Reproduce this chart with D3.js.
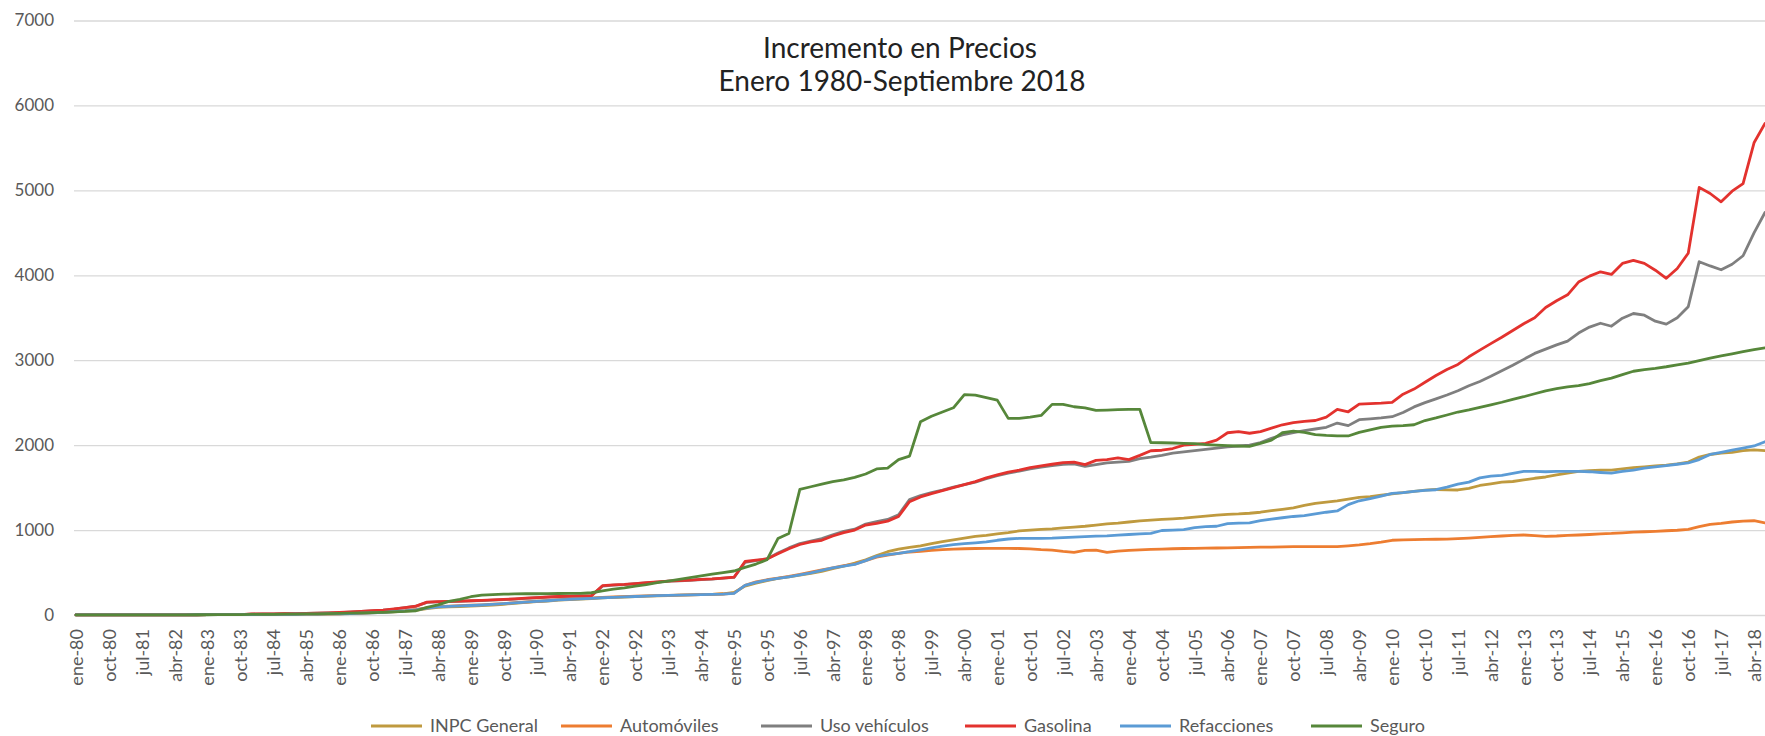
<!DOCTYPE html>
<html>
<head>
<meta charset="utf-8">
<script src="https://cdn.jsdelivr.net/npm/d3@7"></script>
<style>
  html, body { margin: 0; padding: 0; background: #ffffff; }
  svg { display: block; font-family: Lato, "Open Sans", sans-serif; }
</style>
</head>
<body>
<svg id="chart" width="1765" height="736"></svg>
<script>
// ---------- DATA ----------
const quarterMonths = ["ene", "abr", "jul", "oct"];
const years = [1980,1981,1982,1983,1984,1985,1986,1987,1988,1989,1990,1991,1992,1993,1994,1995,1996,1997,1998,1999,
               2000,2001,2002,2003,2004,2005,2006,2007,2008,2009,2010,2011,2012,2013,2014,2015,2016,2017,2018];
// quarterly categories ene-80 ... jul-18
const categories = [];
years.forEach(y => quarterMonths.forEach((m, q) => {
  if (y === 2018 && q > 2) return;
  categories.push(m + "-" + String(y).slice(2));
}));

const yTicks = [0, 1000, 2000, 3000, 4000, 5000, 6000, 7000];
const seriesNames = ["INPC General", "Automóviles", "Uso vehículos", "Gasolina", "Refacciones", "Seguro"];
const seriesColors = ["#BF9A3F", "#ED7D31", "#7F7F7F", "#E3322E", "#5B9BD5", "#56873A"];

const inpcGeneral = [
  1,1.1,1.2,1.3, 1.3,1.4,1.5,1.6, 1.8,2.1,2.4,2.7, 3.3,3.8,4.3,4.8, 5.5,6,6.7,7.3, 8.5,9.3,10.5,12,
  14,17,20,24, 30,37,45,55, 75,90,97,100, 105,110,118,126, 138,148,157,165, 175,182,187,193,
  202,207,212,217, 222,226,229,233, 236,240,244,250, 265,340,375,405, 430,450,470,490, 515,545,575,610,
  650,700,745,775, 795,815,840,865, 885,905,925,938, 955,970,990,1000, 1008,1015,1025,1035,
  1045,1058,1072,1082, 1095,1108,1118,1125, 1132,1140,1152,1165, 1177,1185,1190,1198, 1210,1228,1244,1262,
  1290,1315,1330,1345, 1365,1385,1395,1410, 1425,1440,1455,1470, 1478,1474,1472,1490, 1525,1545,1565,1572,
  1590,1610,1625,1650, 1670,1690,1700,1705, 1707,1720,1735,1745, 1755,1765,1780,1800, 1860,1890,1905,1915,
  1935,1945,1935
];
const automoviles = [
  1,1.1,1.2,1.3, 1.4,1.5,1.6,1.8, 2,2.3,2.7,3.2, 3.8,4.3,4.8,5.4, 6,6.7,7.5,8.3, 9.2,10.5,12,13.5,
  15,18,22,27, 33,42,52,65, 85,98,105,110, 115,120,127,135, 145,153,162,170, 180,188,194,200,
  208,212,217,221, 225,228,231,234, 237,240,243,247, 258,350,390,415, 435,455,478,505, 530,555,580,600,
  640,680,705,725, 742,750,760,770, 775,780,783,785, 785,785,783,778, 770,765,750,738,
  760,765,738,752, 760,768,773,776, 780,783,785,787, 789,791,793,797, 799,800,802,804,
  804,804,804,806, 815,825,840,858, 880,884,887,890, 892,893,900,906, 914,922,930,938,
  942,935,925,930, 938,942,948,955, 960,968,975,980, 985,992,998,1008, 1040,1068,1080,1095,
  1105,1110,1085
];
const usoVehiculos = [
  1,1,1,1, 1.2,1.2,1.2,1.3, 1.5,1.6,2.2,2.4, 3.5,3.6,3.9,5, 11,12.5,13.5,14.5, 16.5,18.5,21.5,24.5,
  29,35,41,49, 57,70,86,103, 148,155,158,161, 166,170,176,181, 188,196,203,210, 216,220,223,226,
  340,352,358,368, 378,388,398,403, 408,418,423,433, 443,620,640,660, 730,790,840,870, 900,945,985,1010,
  1070,1100,1125,1180, 1360,1405,1440,1470, 1505,1535,1565,1605, 1640,1670,1695,1720, 1740,1760,1775,1780,
  1750,1770,1790,1800, 1810,1840,1858,1880, 1905,1920,1935,1950, 1965,1980,1990,2001, 2030,2080,2120,2146,
  2170,2190,2210,2260, 2230,2300,2310,2320, 2335,2385,2450,2500, 2545,2590,2640,2700, 2750,2810,2875,2940,
  3010,3080,3130,3180, 3225,3320,3390,3435, 3400,3495,3550,3530, 3460,3425,3500,3630, 4160,4110,4065,4130,
  4230,4500,4740
];
const gasolina = [
  1,1,1,1, 1.2,1.2,1.2,1.3, 1.5,1.5,2.2,2.3, 3.5,3.6,3.8,5, 12,13,14,15, 17,19,22,25,
  30,36,42,50, 58,72,88,105, 152,158,160,163, 168,172,178,183, 190,198,205,212, 218,222,225,228,
  345,355,360,370, 380,390,400,405, 410,420,425,435, 445,630,645,660, 720,780,830,860, 880,930,970,1000,
  1059,1080,1105,1160, 1334,1390,1430,1465, 1500,1535,1570,1615, 1650,1683,1705,1735, 1755,1775,1793,1800,
  1770,1820,1830,1850, 1830,1880,1934,1940, 1960,2001,2010,2020, 2060,2146,2158,2140, 2160,2200,2240,2265,
  2280,2290,2330,2420, 2393,2484,2490,2495, 2503,2600,2660,2740, 2820,2890,2950,3040, 3119,3195,3270,3350,
  3430,3500,3620,3700, 3770,3920,3990,4041, 4010,4140,4175,4140, 4060,3965,4080,4260, 5035,4963,4865,4990,
  5080,5560,5787
];
const refacciones = [
  1,1.1,1.2,1.3, 1.4,1.5,1.6,1.8, 2,2.3,2.6,3, 3.5,4,4.5,5, 5.6,6.2,7,7.8, 8.7,9.8,11,12.5,
  14,17,21,25, 31,39,48,60, 80,95,102,107, 112,118,125,133, 143,152,160,168, 177,185,190,196,
  203,208,213,218, 223,227,230,233, 236,239,242,246, 255,350,385,410, 430,450,472,495, 525,555,575,595,
  640,690,710,725, 745,768,790,810, 828,840,850,860, 880,895,902,902, 902,905,912,918,
  922,928,932,940, 948,955,961,995, 1000,1005,1030,1040, 1045,1075,1082,1085, 1110,1130,1145,1160,
  1170,1190,1210,1225, 1300,1345,1370,1400, 1432,1440,1455,1468, 1475,1505,1540,1565, 1615,1635,1645,1668,
  1690,1690,1687,1690, 1690,1690,1687,1678, 1670,1690,1707,1730, 1745,1760,1775,1790, 1830,1890,1915,1940,
  1965,1990,2040
];
const seguro = [
  1,1,1,1, 1.2,1.3,1.4,1.5, 1.7,2,2.3,2.7, 3.2,3.8,4.5,5.3, 6.2,7.2,8.3,9.5, 11,12.5,14,16,
  18,21,24,28, 32,37,42,50, 90,120,160,184, 215,235,240,245, 248,250,250,252, 253,254,255,262,
  285,305,320,340, 358,380,400,420, 440,460,480,500, 518,560,600,650, 900,960,1480,1510, 1540,1570,1590,1620,
  1660,1720,1730,1830, 1870,2275,2340,2390, 2440,2595,2590,2560, 2530,2315,2315,2330, 2350,2480,2480,2452,
  2440,2410,2413,2418, 2420,2420,2030,2028, 2025,2021,2018,2005, 2000,1995,1990,1985, 2020,2060,2146,2165,
  2150,2125,2115,2108, 2108,2150,2180,2210, 2225,2230,2240,2290, 2320,2355,2390,2415, 2445,2475,2505,2540,
  2570,2605,2640,2665, 2685,2700,2725,2760, 2790,2830,2870,2890, 2905,2923,2945,2965, 2995,3025,3050,3075,
  3100,3125,3146
];
const seriesValues = [inpcGeneral, automoviles, usoVehiculos, gasolina, refacciones, seguro];

// ---------- LAYOUT ----------
const W = 1765, H = 736;
const plotLeft = 76, plotRight = 1765, gridLeft = 74;
const yBottom = 615, yTop = 20.5;

const svg = d3.select("#chart");
svg.append("rect").attr("width", W).attr("height", H).attr("fill", "#ffffff");

const x = d3.scalePoint().domain(categories).range([plotLeft, plotRight]);
const y = d3.scaleLinear().domain([0, 7000]).range([yBottom, yTop]);

// gridlines + y labels
const yAxis = d3.axisLeft(y).tickValues(yTicks).tickSize(-(W - gridLeft)).tickPadding(20).tickFormat(d3.format("d"));
const gy = svg.append("g").attr("transform", `translate(${gridLeft},0)`).call(yAxis);
gy.select(".domain").remove();
gy.selectAll(".tick line").attr("stroke", "#d9d9d9").attr("stroke-width", 1.3);
gy.selectAll(".tick text").attr("fill", "#595959").attr("font-size", 17).attr("font-family", "Lato, sans-serif");

// x labels every 9 months
const xTickCats = categories.filter((c, i) => i % 3 === 0);
const xAxis = d3.axisBottom(x).tickValues(xTickCats).tickSize(0).tickPadding(0);
const gx = svg.append("g").attr("transform", `translate(0,${yBottom})`).call(xAxis);
gx.select(".domain").remove();
gx.selectAll(".tick text")
  .attr("fill", "#595959").attr("font-size", 18).attr("font-family", "Lato, sans-serif")
  .attr("text-anchor", "end")
  .attr("transform", "translate(0,14) rotate(-90)")
  .attr("x", 0).attr("y", 0).attr("dy", "0.35em");

// lines
svg.append("clipPath").attr("id", "plotclip")
  .append("rect").attr("x", 0).attr("y", 0).attr("width", W).attr("height", yBottom + 5);
const line = d3.line().x((d, i) => x(categories[i])).y(d => y(d));
const gLines = svg.append("g").attr("clip-path", "url(#plotclip)");
seriesValues.forEach((vals, k) => {
  gLines.append("path")
    .attr("d", line(vals))
    .attr("fill", "none")
    .attr("stroke", seriesColors[k])
    .attr("stroke-width", 2.8)
    .attr("stroke-linejoin", "round")
    .attr("stroke-linecap", "round");
});

// title
const title = svg.append("text").attr("x", 900).attr("text-anchor", "middle")
  .attr("fill", "#222222").attr("font-size", 28).attr("font-family", "Lato, sans-serif");
title.append("tspan").attr("x", 900).attr("y", 58).text("Incremento en Precios");
title.append("tspan").attr("x", 902).attr("y", 91).text("Enero 1980-Septiembre 2018");

// legend
const legendX = [371, 561, 761, 965, 1120, 1311];
const legendY = 726;
const lg = svg.append("g");
seriesNames.forEach((name, k) => {
  lg.append("line").attr("x1", legendX[k]).attr("x2", legendX[k] + 51)
    .attr("y1", legendY).attr("y2", legendY)
    .attr("stroke", seriesColors[k]).attr("stroke-width", 3);
  lg.append("text").attr("x", legendX[k] + 59).attr("y", legendY).attr("dy", "0.35em")
    .attr("fill", "#595959").attr("font-size", 18).attr("font-family", "Lato, sans-serif")
    .text(name);
});
</script>
</body>
</html>
